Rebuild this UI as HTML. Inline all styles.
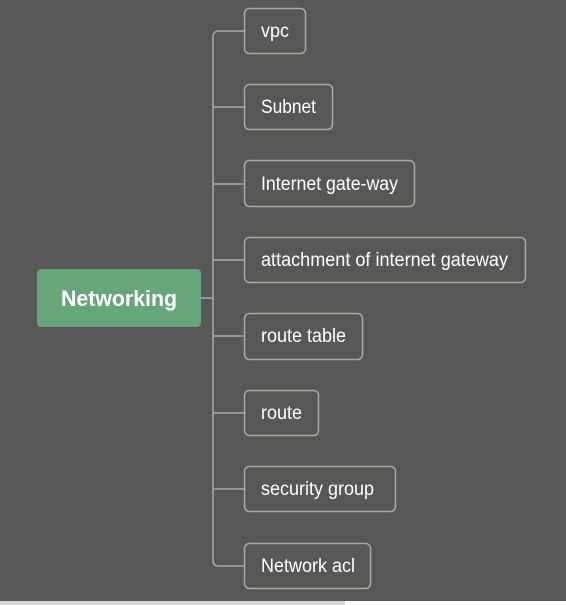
<!DOCTYPE html>
<html><head><style>
html,body{margin:0;padding:0;width:566px;height:605px;overflow:hidden;background:#575855}
</style></head><body>
<svg width="566" height="605" xmlns="http://www.w3.org/2000/svg" style="display:block">
<rect x="0" y="0" width="566" height="605" fill="#575855"/>
<rect x="0" y="601" width="345" height="4" fill="#d9d9d9"/>
<rect x="345" y="601" width="221" height="4" fill="#ffffff"/>
<g fill="none" stroke="#a9aaa6" stroke-width="1.5">
<path d="M201 298 H213"/>
<path d="M244 31 H219 Q213 31 213 37 V560 Q213 566 219 566 H244"/>
<path d="M213 107 H244 M213 184 H244 M213 260 H244 M213 336 H244 M213 413 H244 M213 489 H244"/>
<rect x="244.5" y="8.5" width="61" height="45" rx="5"/>
<rect x="244.5" y="84.5" width="88" height="45" rx="5"/>
<rect x="244.5" y="160.5" width="170" height="46" rx="5"/>
<rect x="244.5" y="237.5" width="281" height="45" rx="5"/>
<rect x="244.5" y="313.5" width="118" height="46" rx="5"/>
<rect x="244.5" y="390.5" width="74" height="45" rx="5"/>
<rect x="244.5" y="466.5" width="151" height="45" rx="5"/>
<rect x="244.5" y="543.5" width="126" height="45" rx="5"/>
</g>
<rect x="37" y="269" width="164" height="58" rx="4" fill="#67a57a"/>
<g font-family="Liberation Sans, sans-serif" fill="#ffffff">
<text x="61" y="306" font-size="22" font-weight="bold" textLength="116" lengthAdjust="spacingAndGlyphs">Networking</text>
<g font-size="19">
<text x="261" y="37" textLength="28" lengthAdjust="spacingAndGlyphs">vpc</text>
<text x="261" y="113" textLength="55" lengthAdjust="spacingAndGlyphs">Subnet</text>
<text x="261" y="190" textLength="137" lengthAdjust="spacingAndGlyphs">Internet gate-way</text>
<text x="261" y="266" textLength="247" lengthAdjust="spacingAndGlyphs">attachment of internet gateway</text>
<text x="261" y="342" textLength="85" lengthAdjust="spacingAndGlyphs">route table</text>
<text x="261" y="419" textLength="41" lengthAdjust="spacingAndGlyphs">route</text>
<text x="261" y="495" textLength="113" lengthAdjust="spacingAndGlyphs">security group</text>
<text x="261" y="572" textLength="94" lengthAdjust="spacingAndGlyphs">Network acl</text>
</g></g>
</svg>
</body></html>
